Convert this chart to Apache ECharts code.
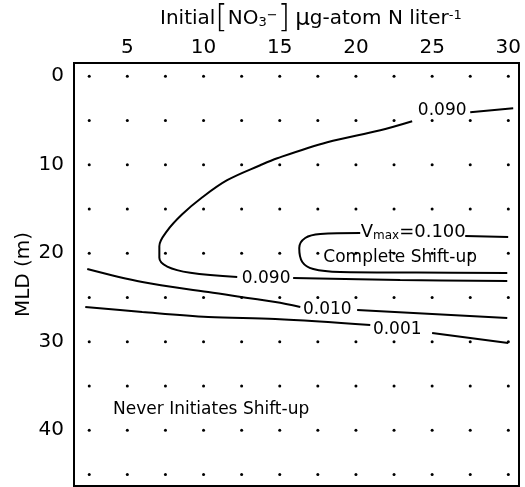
<!DOCTYPE html>
<html>
<head>
<meta charset="utf-8">
<script src="https://cdn.jsdelivr.net/npm/echarts@6/dist/echarts.min.js"></script>
<style>
  html, body { margin: 0; padding: 0; background: #fff; }
  #chart { width: 525px; height: 487px; }
</style>
</head>
<body>
<div id="chart"></div>
<script>
var xTicks = [5, 10, 15, 20, 25, 30];
var yTicks = [0, 10, 20, 30, 40];
var dotX = [2.5, 5, 7.5, 10, 12.5, 15, 17.5, 20, 22.5, 25, 27.5, 30];
var dotY = [0, 5, 10, 15, 20, 25, 30, 35, 40, 45];

// contour pieces (NO3, MLD), broken where the labels sit
var c090Main = [[23.69, 5.08], [21.6, 6.1], [18.12, 7.45], [14.84, 9.26], [13.72, 10.05], [11.55, 11.74],
  [9.9, 13.7], [8.6, 15.6], [7.6, 17.5], [7.1, 19.2], [7.1, 20.5], [7.62, 21.5], [9.13, 22.2], [12.21, 22.69]];
var c090TopRight = [[27.5, 4.06], [30.32, 3.61]];
var c090LowRight = [[15.88, 22.8], [22.9, 23.02], [29.93, 23.14]];
var c100Main = [[20.28, 17.72], [17.66, 17.83], [16.67, 18.28], [16.28, 19.41], [16.48, 20.99], [17.2, 21.78],
  [18.97, 22.12], [24, 22.18], [29.93, 22.23]];
var c100Right = [[27.17, 18.06], [29.99, 18.17]];
var c010Left = [[2.37, 21.78], [5.98, 23.25], [10.31, 24.38], [14.71, 25.51], [16.35, 26.07]];
var c010Right = [[20.08, 26.41], [29.93, 27.31]];
var c001Left = [[2.24, 26.07], [5.98, 26.64], [10.31, 27.2], [14.71, 27.43], [20.94, 28.1]];
var c001Right = [[25.0, 29.0], [29.99, 30.14]];

var labelText = ['0.090', '0.090', '{v|V}{s|max}{v|=0.100}', '0.010', '0.001', 'Complete Shift-up', 'Never Initiates Shift-up'];
var labelX = [25.66, 14.11, 23.76, 18.12, 22.71, 22.9, 10.5];
var labelY = [3.84, 22.91, 17.6, 26.41, 28.67, 20.54, 37.7];

var FONT = 'DejaVu Sans';

var dots = [];
for (var i = 0; i < dotX.length; i++) {
  for (var j = 0; j < dotY.length; j++) {
    dots.push([dotX[i], dotY[j]]);
  }
}
var labels = [];
for (var k = 0; k < labelText.length; k++) {
  labels.push({ value: [labelX[k], labelY[k]], name: labelText[k] });
}

var pieces = [c090Main, c090TopRight, c090LowRight, c100Main, c100Right, c010Left, c010Right, c001Left, c001Right];
var series = [{
  type: 'scatter',
  data: dots,
  symbol: 'circle',
  symbolSize: 3,
  itemStyle: { color: '#000', opacity: 1 },
  silent: true
}];
pieces.forEach(function(p){
  series.push({
    type: 'line',
    data: p,
    smooth: 0.35,
    showSymbol: false,
    lineStyle: { color: '#000', width: 2 },
    silent: true
  });
});
series.push({
  type: 'scatter',
  data: labels,
  symbolSize: 0,
  silent: true,
  itemStyle: { color: '#000', opacity: 1 },
  label: {
    show: true,
    position: 'inside',
    formatter: function(p){ return p.name; },
    color: '#000',
    textBorderWidth: 0,
    fontFamily: FONT,
    fontSize: 17,
    rich: {
      v: { fontFamily: FONT, fontSize: 18, color: '#000', textBorderWidth: 0, verticalAlign: 'middle' },
      s: { fontFamily: FONT, fontSize: 12, color: '#000', textBorderWidth: 0, verticalAlign: 'bottom', padding: [7, 0, 0, 0] }
    }
  }
});

var chart = echarts.init(document.getElementById('chart'));
chart.setOption({
  animation: false,
  backgroundColor: '#fff',
  title: {
    left: 155,
    top: -2,
    text: '{t|Initial}{b|[}{t|NO}{sub|3}{sup|−}{b|]} {mu|μ}{t|g-atom N liter}{sup|-1}',
    textStyle: {
      rich: {
        t: { fontFamily: FONT, fontSize: 20, fontWeight: 'normal', color: '#000', verticalAlign: 'middle' },
        mu: { fontFamily: FONT, fontSize: 23, fontWeight: 'normal', color: '#000', verticalAlign: 'middle' },
        b: { fontFamily: FONT, fontSize: 32, color: '#000', fontWeight: 'lighter', verticalAlign: 'middle' },
        sub: { fontFamily: FONT, fontSize: 13, fontWeight: 'normal', color: '#000', verticalAlign: 'bottom', padding: [0, 0, 6, 0] },
        sup: { fontFamily: FONT, fontSize: 13, fontWeight: 'normal', color: '#000', verticalAlign: 'top', padding: [6, 0, 0, 0] }
      }
    }
  },
  grid: {
    left: 74, right: 6, top: 63, bottom: 1,
    show: true,
    borderColor: '#000',
    borderWidth: 2
  },
  xAxis: {
    type: 'value',
    position: 'top',
    min: 1.5,
    max: 30.7,
    axisLine: { show: true, onZero: false, lineStyle: { color: '#000', width: 2 } },
    axisTick: { show: false },
    splitLine: { show: false },
    axisLabel: {
      customValues: xTicks,
      color: '#000',
      fontFamily: FONT,
      fontSize: 20,
      margin: 5
    }
  },
  yAxis: {
    type: 'value',
    inverse: true,
    min: -1.5,
    max: 46.3,
    name: 'MLD (m)',
    nameLocation: 'middle',
    nameGap: 40,
    nameMoveOverlap: false,
    nameTextStyle: { fontFamily: FONT, fontSize: 20, color: '#000' },
    axisLine: { show: true, onZero: false, lineStyle: { color: '#000', width: 2 } },
    axisTick: { show: false },
    splitLine: { show: false },
    axisLabel: {
      customValues: yTicks,
      color: '#000',
      fontFamily: FONT,
      fontSize: 20,
      margin: 10
    }
  },
  series: series
});
</script>
</body>
</html>
